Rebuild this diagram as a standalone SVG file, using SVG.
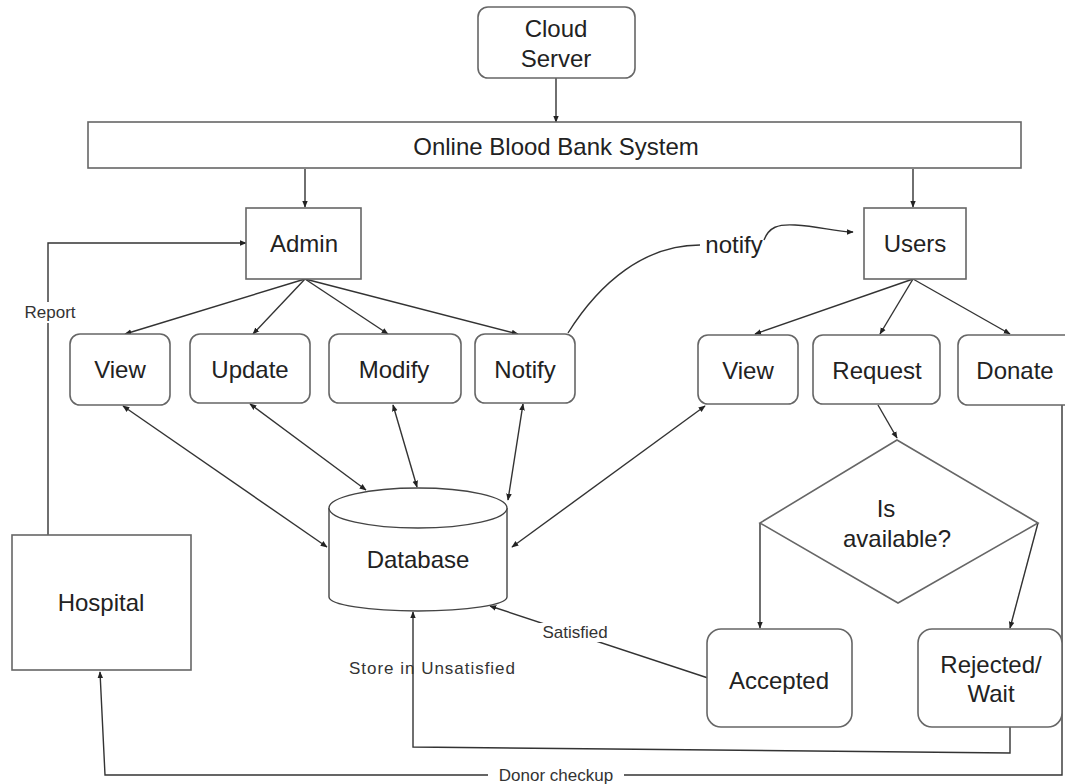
<svg xmlns="http://www.w3.org/2000/svg" width="1065" height="784" viewBox="0 0 1065 784">
  <defs>
    <marker id="arrow" viewBox="0 0 10 10" refX="9" refY="5" markerWidth="7" markerHeight="7" markerUnits="userSpaceOnUse" orient="auto-start-reverse">
      <path d="M0,1 L10,5 L0,9 z" fill="#222"/>
    </marker>
    <style>
      .box { fill: #fff; stroke: #666; stroke-width: 1.6; }
      .db { fill: #fff; stroke: #444; stroke-width: 1.4; }
      .edge { fill: none; stroke: #333; stroke-width: 1.4; }
      .lbl { font-family: "Liberation Sans", Arial, sans-serif; font-size: 24px; fill: #222; text-anchor: middle; }
      .small { font-family: "Liberation Sans", Arial, sans-serif; font-size: 17px; fill: #333; text-anchor: middle; }
      .mask { fill: #fff; }
    </style>
  </defs>

  <rect width="1065" height="784" fill="#fff"/>

  <!-- connectors -->
  <g id="connectors">
    <path class="edge" d="M556,78 L556,122" marker-end="url(#arrow)"/>
    <path class="edge" d="M305,169 L305,207" marker-end="url(#arrow)"/>
    <path class="edge" d="M913,169 L913,207" marker-end="url(#arrow)"/>

    <!-- Admin fan-out -->
    <path class="edge" d="M305,279 L125,334" marker-end="url(#arrow)"/>
    <path class="edge" d="M305,279 L253,334" marker-end="url(#arrow)"/>
    <path class="edge" d="M305,279 L388,334" marker-end="url(#arrow)"/>
    <path class="edge" d="M305,279 L518,334" marker-end="url(#arrow)"/>

    <!-- Users fan-out -->
    <path class="edge" d="M913,279 L755,334" marker-end="url(#arrow)"/>
    <path class="edge" d="M913,279 L880,334" marker-end="url(#arrow)"/>
    <path class="edge" d="M913,279 L1010,334" marker-end="url(#arrow)"/>

    <!-- notify curve -->
    <path class="edge" d="M568,333 C600,282 645,245 700,245"/>
    <path class="edge" d="M764,240 C769,227 778,224 795,225 C820,226 834,232 853,232" marker-end="url(#arrow)"/>

    <!-- database links -->
    <path class="edge" d="M123,406 L327,547" marker-start="url(#arrow)" marker-end="url(#arrow)"/>
    <path class="edge" d="M250,404 L366,490" marker-start="url(#arrow)" marker-end="url(#arrow)"/>
    <path class="edge" d="M393,405 L417,487" marker-start="url(#arrow)" marker-end="url(#arrow)"/>
    <path class="edge" d="M523,404 L508,500" marker-start="url(#arrow)" marker-end="url(#arrow)"/>
    <path class="edge" d="M705,406 L512,547" marker-start="url(#arrow)" marker-end="url(#arrow)"/>

    <!-- request decision -->
    <path class="edge" d="M878,405 L897,438" marker-end="url(#arrow)"/>
    <path class="edge" d="M760,523 L760,628" marker-end="url(#arrow)"/>
    <path class="edge" d="M1038,523 L1010,628" marker-end="url(#arrow)"/>

    <!-- accepted back to database -->
    <path class="edge" d="M708,678 L490,606" marker-end="url(#arrow)"/>
    <rect class="mask" x="536" y="623" width="79" height="19"/>
    <text class="small" x="575" y="638">Satisfied</text>

    <!-- rejected back to database -->
    <path class="edge" d="M1010,727 L1010,753 L413,747 L413,612" marker-end="url(#arrow)"/>
    <text class="small" x="432" y="674" textLength="166" lengthAdjust="spacing">Store in Unsatisfied</text>

    <!-- hospital report -->
    <path class="edge" d="M48,535 L48,243 L246,243" marker-end="url(#arrow)"/>
    <rect class="mask" x="21" y="302" width="58" height="21"/>
    <text class="small" x="50" y="318">Report</text>

    <!-- donor checkup loop -->
    <path class="edge" d="M1062,405 L1062,775 L105,775 L100,672" marker-end="url(#arrow)"/>
    <rect class="mask" x="488" y="765" width="136" height="19"/>
    <text class="small" x="556" y="781">Donor checkup</text>
  </g>

  <g id="notify-label">
    <text class="lbl" x="734" y="253">notify</text>
  </g>

  <g id="cloud-server">
    <rect class="box" x="478" y="7" width="157" height="71" rx="10"/>
    <text class="lbl" x="556" y="37">Cloud</text>
    <text class="lbl" x="556" y="67">Server</text>
  </g>

  <g id="system">
    <rect class="box" x="88" y="122" width="933" height="46"/>
    <text class="lbl" x="556" y="155">Online Blood Bank System</text>
  </g>

  <g id="admin">
    <rect class="box" x="246" y="208" width="115" height="71"/>
    <text class="lbl" x="304" y="252">Admin</text>
  </g>

  <g id="users">
    <rect class="box" x="864" y="208" width="102" height="71"/>
    <text class="lbl" x="915" y="252">Users</text>
  </g>

  <g id="admin-view">
    <rect class="box" x="70" y="334" width="100" height="71" rx="10"/>
    <text class="lbl" x="120" y="378">View</text>
  </g>
  <g id="admin-update">
    <rect class="box" x="190" y="334" width="120" height="69" rx="10"/>
    <text class="lbl" x="250" y="378">Update</text>
  </g>
  <g id="admin-modify">
    <rect class="box" x="329" y="334" width="132" height="69" rx="10"/>
    <text class="lbl" x="394" y="378">Modify</text>
  </g>
  <g id="admin-notify">
    <rect class="box" x="475" y="334" width="100" height="69" rx="10"/>
    <text class="lbl" x="525" y="378">Notify</text>
  </g>

  <g id="user-view">
    <rect class="box" x="698" y="335" width="100" height="69" rx="10"/>
    <text class="lbl" x="748" y="379">View</text>
  </g>
  <g id="user-request">
    <rect class="box" x="813" y="335" width="127" height="69" rx="10"/>
    <text class="lbl" x="877" y="379">Request</text>
  </g>
  <g id="user-donate">
    <rect class="box" x="958" y="335" width="125" height="70" rx="10"/>
    <text class="lbl" x="1015" y="379">Donate</text>
  </g>

  <g id="database">
    <path class="db" d="M329,508 L329,597 A89,14 0 0 0 507,597 L507,508"/>
    <ellipse class="db" cx="418" cy="508" rx="89" ry="20"/>
    <text class="lbl" x="418" y="568">Database</text>
  </g>

  <g id="availability">
    <path class="box" d="M897,440 L1038,523 L898,603 L760,523 z"/>
    <text class="lbl" x="886" y="517">Is</text>
    <text class="lbl" x="897" y="547">available?</text>
  </g>

  <g id="accepted">
    <rect class="box" x="707" y="629" width="145" height="98" rx="14"/>
    <text class="lbl" x="779" y="689">Accepted</text>
  </g>

  <g id="rejected">
    <rect class="box" x="918" y="629" width="144" height="98" rx="14"/>
    <text class="lbl" x="991" y="673">Rejected/</text>
    <text class="lbl" x="991" y="702">Wait</text>
  </g>

  <g id="hospital">
    <rect class="box" x="12" y="535" width="179" height="135"/>
    <text class="lbl" x="101" y="611">Hospital</text>
  </g>
</svg>
